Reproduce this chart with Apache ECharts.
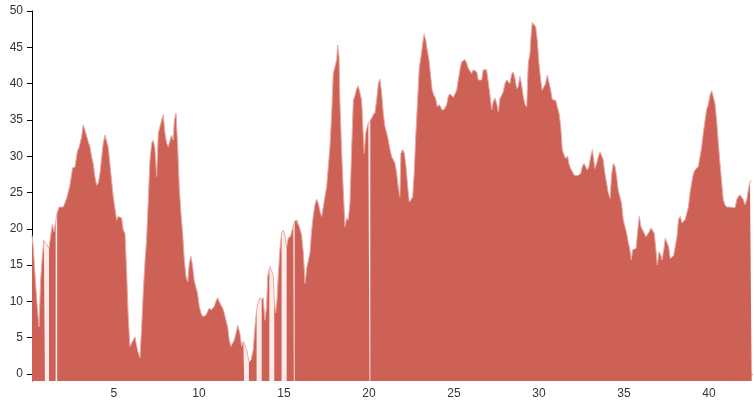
<!DOCTYPE html>
<html>
<head>
<meta charset="utf-8">
<script src="https://cdn.jsdelivr.net/npm/echarts@6/dist/echarts.min.js"></script>
<style>html,body{margin:0;padding:0;background:#fff}#c{width:754px;height:404px}</style>
</head>
<body>
<div id="c"></div>
<script>
// distance (km) and elevation values
var dist = [0.18,0.25,0.45,0.59,0.69,0.78,0.88,0.94,1.06,1.18,1.24,1.37,1.47,1.53,1.57,1.62,1.66,1.78,2.02,2.12,2.22,2.41,2.57,2.71,2.84,2.96,3.10,3.19,3.29,3.39,3.49,3.59,3.69,3.78,3.88,3.98,4.08,4.18,4.28,4.37,4.47,4.57,4.66,4.76,4.86,4.96,5.06,5.16,5.25,5.45,5.55,5.65,5.75,5.84,5.94,6.04,6.14,6.24,6.34,6.43,6.53,6.63,6.72,6.82,6.92,7.02,7.12,7.22,7.31,7.41,7.51,7.61,7.71,7.81,7.90,8.00,8.10,8.19,8.29,8.39,8.49,8.55,8.65,8.75,8.84,8.94,9.04,9.14,9.24,9.34,9.43,9.53,9.63,9.72,9.82,9.92,10.02,10.12,10.22,10.31,10.41,10.51,10.61,10.71,10.81,10.90,11.00,11.10,11.19,11.29,11.39,11.49,11.59,11.69,11.78,11.88,11.98,12.08,12.18,12.28,12.41,12.51,12.61,12.66,12.71,12.81,12.94,13.06,13.19,13.33,13.39,13.49,13.59,13.69,13.78,13.88,13.98,14.04,14.14,14.18,14.28,14.37,14.43,14.51,14.59,14.66,14.76,14.86,14.96,15.06,15.16,15.25,15.39,15.55,15.58,15.61,15.63,15.69,15.78,15.90,16.04,16.14,16.24,16.34,16.43,16.53,16.63,16.72,16.82,16.92,17.02,17.12,17.22,17.31,17.41,17.51,17.61,17.71,17.81,17.90,18.00,18.10,18.16,18.24,18.29,18.39,18.49,18.59,18.69,18.78,18.88,18.98,19.08,19.18,19.28,19.37,19.47,19.57,19.66,19.72,19.81,19.90,19.96,20.03,20.06,20.08,20.16,20.25,20.35,20.45,20.55,20.65,20.75,20.84,20.94,21.04,21.14,21.24,21.34,21.43,21.53,21.63,21.72,21.82,21.88,21.98,22.08,22.18,22.28,22.37,22.47,22.57,22.66,22.76,22.86,22.96,23.06,23.16,23.24,23.34,23.43,23.53,23.63,23.72,23.82,23.92,24.02,24.12,24.22,24.28,24.41,24.57,24.66,24.76,24.86,24.96,25.06,25.16,25.25,25.35,25.45,25.55,25.65,25.75,25.84,25.94,26.04,26.14,26.24,26.34,26.43,26.53,26.63,26.72,26.82,26.92,26.98,27.08,27.22,27.31,27.41,27.51,27.61,27.71,27.81,27.90,28.00,28.10,28.19,28.29,28.39,28.49,28.59,28.69,28.78,28.88,28.98,29.08,29.18,29.28,29.37,29.47,29.53,29.61,29.71,29.81,29.90,30.00,30.10,30.19,30.29,30.39,30.49,30.59,30.69,30.78,30.88,30.98,31.08,31.18,31.28,31.37,31.47,31.57,31.69,31.76,31.86,31.96,32.06,32.25,32.35,32.45,32.55,32.65,32.75,32.84,32.94,33.04,33.14,33.19,33.29,33.39,33.49,33.59,33.69,33.78,33.88,33.98,34.08,34.18,34.28,34.37,34.47,34.57,34.66,34.76,34.86,34.96,35.06,35.16,35.25,35.35,35.43,35.51,35.61,35.71,35.81,35.90,36.00,36.10,36.19,36.29,36.39,36.49,36.59,36.69,36.78,36.88,36.96,37.06,37.16,37.24,37.34,37.43,37.53,37.63,37.72,37.82,37.92,38.02,38.12,38.21,38.31,38.41,38.50,38.60,38.71,38.79,38.88,38.98,39.08,39.18,39.28,39.37,39.47,39.57,39.66,39.76,39.86,39.96,40.06,40.16,40.25,40.35,40.45,40.55,40.65,40.75,40.84,40.94,41.04,41.14,41.24,41.34,41.53,41.63,41.72,41.82,41.92,42.02,42.12,42.22,42.31,42.41,42.51];
var elev = [19.1,17.5,10.5,6.5,13,16,18.4,18.3,17.8,17.3,18.4,20.6,19.6,20.5,20.8,21.8,22.2,23,23,23.1,24.2,26,28.4,28.5,30.6,31.3,32.7,34.3,33.6,33.4,32,31.3,29.9,29,27.2,26,26.3,27.7,29.9,31.8,32.9,32.9,31.3,29,26.7,24.4,22.8,21.2,21.7,21.5,19.8,19.4,13.9,7.9,3.8,3.6,4.7,5.1,3.8,2.9,2.2,6.5,11.1,15.3,18.5,24,29.5,31.8,32.2,31.1,27.2,33.2,33.4,35,35.7,33.2,31.8,31.3,31.5,32.9,32.2,35,35.9,31.3,25.8,22.2,19.4,15.7,13.4,12.7,15.3,16.2,14.8,12.9,12,11.1,9.3,8.4,7.9,7.7,8.1,8.6,9.1,8.8,8.8,9.3,10,10.5,10,9.5,9.1,8.4,7.4,6.5,4.7,3.8,4.0,4.7,5.6,6.7,5.6,3.8,4.5,4.6,4.7,3.3,1.7,1.9,3.3,7.4,8.7,10,10.5,10.2,10.5,7.4,9.3,13.4,14.5,14.8,15,13.6,10.2,8.4,10.2,13.4,17.1,19.4,19.8,18.9,17.5,18.7,19,20.5,20.7,20.9,21.0,21.2,21.2,20.3,19.1,16.7,12.5,14.6,14.6,16.7,19.8,21.7,23.3,24.1,23.5,22.4,21.7,21.5,24.4,25.8,28.6,31.5,36,41.4,42.3,43.3,45.3,43.7,37.7,30.9,25.3,20.3,21.5,21.2,23.5,30.9,37.7,38.4,39.3,39.7,39.6,37.7,33.2,30.4,33.2,34.1,34.6,34.8,34.9,35.0,35.2,35.7,36,37.7,40,40.6,38.6,36,34.1,33.2,32.2,30.9,29.9,29.5,29,27.7,25.8,24.4,30.4,30.9,30.4,28.6,25.8,23.7,24,24.4,27.7,33.2,37.7,42.3,43.7,45.5,46.8,46,44.6,43.3,41,39.1,38.4,38,36.8,37.1,36.8,36.4,36.4,37.1,38.2,38.6,38.4,38.1,38.1,39.1,40.5,41.9,43,43.2,43.3,42.8,42.1,41.9,41.4,41.9,41.8,41.6,40.5,40.4,40.5,41.9,42.1,41.9,42.1,39.1,36.4,37.5,38,37.3,36.1,38,38.4,38.9,40,40.5,40.3,40,41.3,41.6,40.7,39.3,39.6,41,39.8,38.2,37.1,36.8,42.8,44.1,46.5,48.4,48.2,47.8,46,42.8,40.5,39.1,38.9,40,41.2,41.2,39.1,37.8,38,37.7,36.8,35.9,34.1,30.9,30.2,29.7,30,29,28.3,27.9,27.4,27.3,27.2,27.6,28.6,29,28.8,28.1,28.6,29.9,30.9,31.1,28.3,29,29.9,30.6,30.6,29.5,27.6,26.3,24.9,24.2,27.6,29,28.6,27.2,25.3,25.1,23.5,21.2,20.3,19.4,18.2,17.1,15.7,17.1,17.2,17.3,19.8,21.7,20.3,19.8,19.4,18.9,19.1,19.6,20.1,19.9,19.4,17.1,15,16.8,16.4,15.7,17.1,18.7,18.5,17.5,15.9,16.0,16.3,16.2,19.0,21.3,21.7,20.8,20.8,21.3,22.3,23,24.9,26.3,27.6,28.1,27.9,28.6,29.9,31.3,33.1,34.8,36.4,37.1,38.4,39,39,37.3,35,31.8,29,26.3,24,23.3,23,22.8,23,22.9,22.9,24,24.4,24.7,24.8,24,23.3,24,25.3,26.5,26.6];
// stretches (km) where the main profile has no data
var gaps = [[0.94,1.18],[1.57,1.66],[12.66,12.94],[13.39,13.69],[14.14,14.43],[14.86,15.16],[15.58,15.63],[20.03,20.08]];
var xTicks = [5,10,15,20,25,30,35,40];
var yTicks = [0,5,10,15,20,25,30,35,40,45,50];

function inGap(x){
  for (var i=0;i<gaps.length;i++){ if (x>gaps[i][0] && x<gaps[i][1]) return true; }
  return false;
}
var full = dist.map(function(d,i){ return [d, elev[i]]; });
var main = dist.map(function(d,i){ return [d, inGap(d) ? null : elev[i]]; });

var chart = echarts.init(document.getElementById('c'), null, {renderer:'canvas'});
var font = {fontFamily:'Liberation Sans, Arial, sans-serif', fontSize:12, color:'#333'};
chart.setOption({
  animation:false,
  grid:{left:32,right:2,top:11,bottom:23,containLabel:false,outerBoundsMode:'none'},
  xAxis:{type:'value',min:0.18,max:42.53,
    axisLine:{show:true,lineStyle:{color:'#000',width:1}},
    axisTick:{show:true,length:5,lineStyle:{color:'#000'},customValues:xTicks},
    axisLabel:Object.assign({margin:7,customValues:xTicks},font),
    splitLine:{show:false}},
  yAxis:{type:'value',min:-0.96,max:50,
    axisLine:{show:true,lineStyle:{color:'#000',width:1}},
    axisTick:{show:true,length:5,lineStyle:{color:'#000'},customValues:yTicks},
    axisLabel:Object.assign({margin:9,customValues:yTicks},font),
    splitLine:{show:false}},
  series:[
    {type:'line',data:full,showSymbol:false,silent:true,
     lineStyle:{color:'#e8aaa4',width:1},
     areaStyle:{color:'#fbeceb',opacity:1,origin:'start'}},
    {type:'line',data:main,showSymbol:false,connectNulls:false,silent:true,
     lineStyle:{width:0,opacity:0},
     areaStyle:{color:'#cd6155',opacity:1,origin:'start'}}
  ]
});
</script>
</body>
</html>
